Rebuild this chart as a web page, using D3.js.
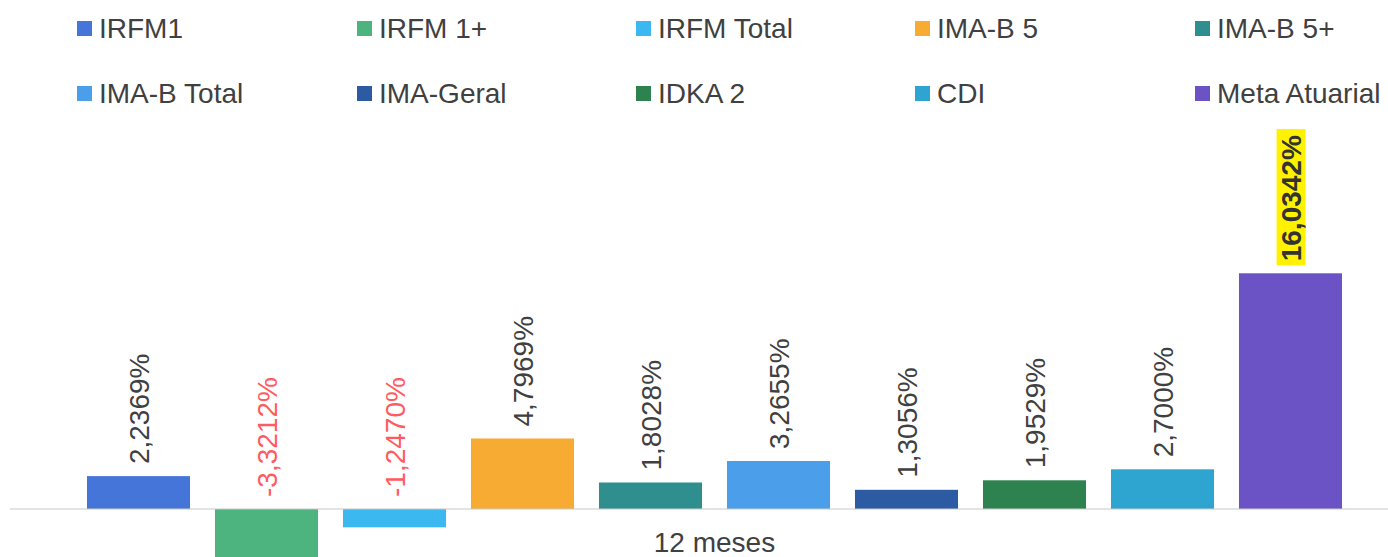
<!DOCTYPE html>
<html>
<head>
<meta charset="utf-8">
<script src="https://cdn.jsdelivr.net/npm/d3@7"></script>
<style>
  body { margin: 0; background: #fff; }
  text { font-family: "Liberation Sans", Arial, sans-serif; }
</style>
</head>
<body>
<div id="chart"></div>
<script>
const width = 1388;
const height = 557;

const category = "12 meses";
const series = ["IRFM1", "IRFM 1+", "IRFM Total", "IMA-B 5", "IMA-B 5+",
    "IMA-B Total", "IMA-Geral", "IDKA 2", "CDI", "Meta Atuarial"];
const values = [2.2369, -3.3212, -1.2470, 4.7969, 1.8028,
    3.2655, 1.3056, 1.9529, 2.7000, 16.0342];
const palette = ["#4575d9", "#4db37f", "#3cb8f0", "#f7ab32", "#2f8f8f",
    "#4a9eea", "#2d5ba3", "#2e8250", "#2ea5d0", "#6b53c6"];

const fmt = v => v.toFixed(4).replace(".", ",") + "%";

const svg = d3.select("#chart")
    .append("svg")
    .attr("width", width)
    .attr("height", height);

const x = d3.scaleBand()
    .domain(series)
    .range([74.5, 1354.5])
    .paddingInner(0.195)
    .paddingOuter(0.0975);

// zero sits at y=509, about 14.7px per percentage point
const y = d3.scaleLinear()
    .domain([-4, 17])
    .range([509 + 4 * 14.7, 509 - 17 * 14.7]);

const color = d3.scaleOrdinal().domain(series).range(palette);

const data = series.map((s, i) => ({ name: s, value: values[i] }));

// bars
svg.append("g")
    .selectAll("rect")
    .data(data)
    .enter().append("rect")
    .attr("x", d => x(d.name))
    .attr("width", x.bandwidth())
    .attr("y", d => y(Math.max(0, d.value)))
    .attr("height", d => Math.abs(y(d.value) - y(0)))
    .attr("fill", d => color(d.name));

// zero line
svg.append("line")
    .attr("x1", 10).attr("x2", width)
    .attr("y1", y(0)).attr("y2", y(0))
    .attr("stroke", "#c8c8c8")
    .attr("stroke-width", 1.2);

// category label
svg.append("text")
    .attr("x", x.range()[0] + (x.range()[1] - x.range()[0]) / 2)
    .attr("y", 552)
    .attr("text-anchor", "middle")
    .attr("font-size", 28)
    .attr("fill", "#404040")
    .text(category);

// value labels
const labels = svg.append("g")
    .selectAll("g")
    .data(data)
    .enter().append("g")
    .attr("transform", d => {
        const cx = x(d.name) + x.bandwidth() / 2;
        const ly = Math.min(y(d.value), y(0)) - 12;
        return `translate(${cx},${ly}) rotate(-90)`;
    });

labels.append("text")
    .attr("text-anchor", "start")
    .attr("dy", "0.36em")
    .attr("font-size", 28)
    .attr("font-weight", d => d.name === "Meta Atuarial" ? "bold" : "normal")
    .attr("fill", d => d.name === "Meta Atuarial" ? "#333" : (d.value < 0 ? "#ff5b5f" : "#404040"))
    .text(d => fmt(d.value));

// yellow highlight behind the target label
labels.filter(d => d.name === "Meta Atuarial").each(function () {
    const t = d3.select(this).select("text");
    const b = t.node().getBBox();
    d3.select(this).insert("rect", "text")
        .attr("x", b.x - 4)
        .attr("y", b.y + 1)
        .attr("width", b.width + 10)
        .attr("height", b.height - 2)
        .attr("fill", "#fff200");
});

// legend
const legendCols = [77, 357, 636, 915, 1195];
const legendRows = [28, 93];
const legend = svg.append("g")
    .selectAll("g")
    .data(data)
    .enter().append("g")
    .attr("transform", (d, i) => `translate(${legendCols[i % 5]},${legendRows[Math.floor(i / 5)]})`);

legend.append("rect")
    .attr("x", 0).attr("y", -7)
    .attr("width", 15).attr("height", 15)
    .attr("fill", d => color(d.name));

legend.append("text")
    .attr("x", 22)
    .attr("dy", "0.35em")
    .attr("font-size", 28)
    .attr("fill", "#404040")
    .text(d => d.name);
</script>
</body>
</html>
